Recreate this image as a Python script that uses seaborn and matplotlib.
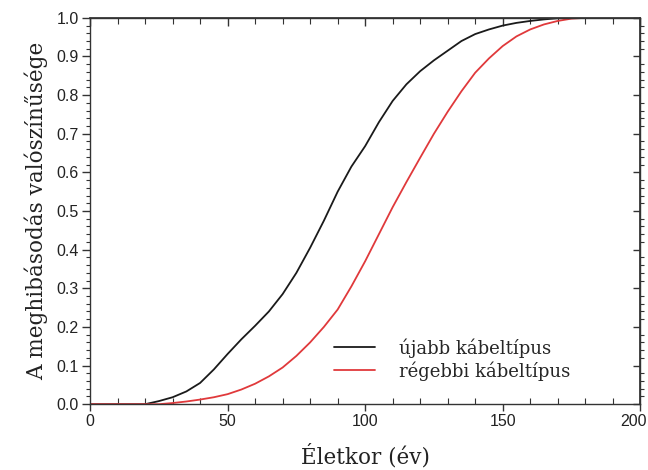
import matplotlib
matplotlib.use("Agg")
import matplotlib.pyplot as plt
import matplotlib.transforms as mtransforms
import seaborn as sns
import pandas as pd
from matplotlib.ticker import MultipleLocator, FormatStrFormatter

# Failure probability vs. cable age
age_new = [0, 5, 10, 15, 20, 25, 30, 35, 40, 45, 50, 55, 60, 65, 70, 75, 80, 85,
           90, 95, 100, 105, 110, 115, 120, 125, 130, 135, 140, 145, 150, 155,
           160, 165, 170, 175, 180, 190, 200]
prob_new = [0.0, 0.0, 0.0, 0.0, 0.0, 0.008, 0.018, 0.033, 0.055, 0.09, 0.13, 0.168,
            0.203, 0.24, 0.285, 0.34, 0.405, 0.475, 0.55, 0.615, 0.668, 0.73,
            0.785, 0.828, 0.862, 0.89, 0.915, 0.94, 0.958, 0.97, 0.98, 0.987,
            0.992, 0.996, 0.999, 1.0, 1.0, 1.0, 1.0]

age_old = [0, 5, 10, 15, 20, 25, 30, 35, 40, 45, 50, 55, 60, 65, 70, 75, 80, 85,
           90, 95, 100, 105, 110, 115, 120, 125, 130, 135, 140, 145, 150, 155,
           160, 165, 170, 175, 180, 190, 200]
prob_old = [0.0, 0.0, 0.0, 0.0, 0.0, 0.0, 0.003, 0.007, 0.012, 0.018, 0.026, 0.038,
            0.053, 0.072, 0.095, 0.125, 0.16, 0.2, 0.245, 0.305, 0.37, 0.44, 0.51,
            0.575, 0.638, 0.7, 0.757, 0.81, 0.858, 0.895, 0.927, 0.952, 0.97,
            0.983, 0.992, 0.998, 1.0, 1.0, 1.0]

x_ticks = [0, 50, 100, 150, 200]
x_tick_labels = ["0", "50", "100", "150", "200"]

series_labels = ["újabb kábeltípus", "régebbi kábeltípus"]
series_colors = ["#1a1a1a", "#e0393b"]

x_label = "Életkor (év)"
y_label = "A meghibásodás valószínűsége"

df = pd.concat([
    pd.DataFrame({"age": age_new, "prob": prob_new, "type": series_labels[0]}),
    pd.DataFrame({"age": age_old, "prob": prob_old, "type": series_labels[1]}),
])

sns.set_theme(style="white")
plt.rcParams["font.family"] = ["Liberation Sans", "DejaVu Sans"]

fig = plt.figure(figsize=(6.48, 4.70), dpi=100)
ax = fig.add_axes([0.139, 0.140, 0.849, 0.822])

sns.lineplot(data=df, x="age", y="prob", hue="type", palette=series_colors,
             hue_order=series_labels, linewidth=1.3, ax=ax, estimator=None,
             sort=False)

ax.set_xlim(0, 200)
ax.set_ylim(0, 1.0)

ax.set_xticks(x_ticks, x_tick_labels)
ax.xaxis.set_minor_locator(MultipleLocator(10))
ax.yaxis.set_major_locator(MultipleLocator(0.1))
ax.yaxis.set_minor_locator(MultipleLocator(0.02))
ax.yaxis.set_major_formatter(FormatStrFormatter("%.1f"))

spine_color = "#333333"
for sp in ax.spines.values():
    sp.set_color(spine_color)
    sp.set_linewidth(1.0)

tick_font = 11.5
ax.tick_params(axis="x", which="major", direction="out", length=5, width=1,
               color=spine_color, labelsize=tick_font, labelcolor="#222222", pad=2,
               bottom=True)
ax.tick_params(axis="x", which="minor", direction="in", length=4, width=0.8,
               color=spine_color, bottom=True)
ax.tick_params(axis="y", which="major", direction="out", length=6, width=1,
               color=spine_color, labelsize=tick_font, labelcolor="#222222", pad=2,
               left=True)
ax.tick_params(axis="y", which="minor", direction="out", length=3, width=0.8,
               color=spine_color, left=True)

# Keep the last x tick label inside the figure
last_tick = ax.xaxis.get_major_ticks()[-1]
last_tick.label1.set_horizontalalignment("right")
last_tick.label1.set_transform(
    last_tick.label1.get_transform()
    + mtransforms.ScaledTranslation(7 / 100, 0, fig.dpi_scale_trans))

# Tick marks on the top and right frame
top = ax.secondary_xaxis("top")
top.xaxis.set_major_locator(MultipleLocator(50))
top.xaxis.set_minor_locator(MultipleLocator(10))
top.tick_params(which="major", direction="in", length=6, width=1, color=spine_color,
                labeltop=False)
top.tick_params(which="minor", direction="in", length=4, width=0.8, color=spine_color)
top.spines["top"].set_color(spine_color)

right = ax.secondary_yaxis("right")
right.yaxis.set_major_locator(MultipleLocator(0.1))
right.yaxis.set_minor_locator(MultipleLocator(0.02))
right.tick_params(which="major", direction="in", length=5, width=1, color=spine_color,
                  labelright=False)
right.tick_params(which="minor", direction="out", length=3, width=0.8, color=spine_color)
right.spines["right"].set_color(spine_color)

serif = ["DejaVu Serif", "Liberation Serif"]
ax.set_xlabel(x_label, fontsize=15.5, family=serif, color="#222222", labelpad=11)
ax.set_ylabel(y_label, fontsize=15.5, family=serif, color="#222222", labelpad=6)

leg = ax.legend(loc="upper left", bbox_to_anchor=(0.43, 0.19), frameon=False,
                prop={"family": serif, "size": 13}, handlelength=2.3,
                handletextpad=1.3, labelspacing=0.2, borderaxespad=0)
for h in leg.get_lines():
    h.set_linewidth(1.3)

fig.savefig("out.png", dpi=100)
